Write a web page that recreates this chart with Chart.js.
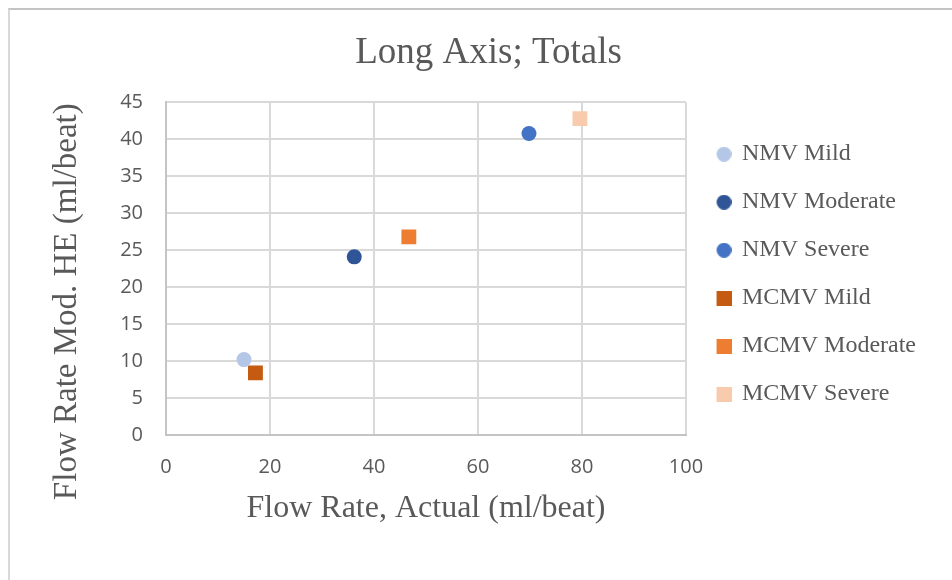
<!DOCTYPE html>
<html>
<head>
<meta charset="utf-8">
<script src="https://cdn.jsdelivr.net/npm/chart.js@4.4.0/dist/chart.umd.min.js"></script>
<style>
  html, body { margin: 0; padding: 0; background: #fff; overflow: hidden; }
  .frame {
    position: absolute; left: 8px; top: 8px;
    border-left: 2px solid #d9d9d9; border-top: 2px solid #c4c4c4;
  }
  .wrap { position: relative; width: 942px; height: 570px; }
</style>
</head>
<body>
<div class="frame"><div class="wrap"><canvas id="chart"></canvas></div></div>
<script>
// ── Data ───────────────────────────────────────────────────────────────────
const seriesNames = ['NMV Mild', 'NMV Moderate', 'NMV Severe', 'MCMV Mild', 'MCMV Moderate', 'MCMV Severe'];
const actualFlow  = [15.0, 36.2, 69.8, 17.2, 46.7, 79.6];   // x, ml/beat
const modHeFlow   = [10.2, 24.1, 40.8, 8.4, 26.8, 42.8];    // y, ml/beat
const seriesColors = ['#b4c7e7', '#2f5597', '#4472c4', '#c55a11', '#ed7d31', '#f8cbad'];
const seriesShapes = ['circle', 'circle', 'circle', 'rect', 'rect', 'rect'];
const xTicks = [0, 20, 40, 60, 80, 100];
const yTicks = [0, 5, 10, 15, 20, 25, 30, 35, 40, 45];

const SERIF = '"Liberation Serif", "Times New Roman", serif';
const SANS = '"Open Sans", "Liberation Sans", sans-serif';
const TEXT = '#595959';

// legend markers: same size for circles and squares, nudged a little right
function legendMarker(shape, color) {
  const c = document.createElement('canvas');
  c.width = 23; c.height = 15;
  const g = c.getContext('2d');
  g.fillStyle = color;
  if (shape === 'rect') g.fillRect(8, 0, 15, 15);
  else { g.beginPath(); g.arc(15.5, 7.5, 7.5, 0, Math.PI * 2); g.fill(); }
  return c;
}
const markers = seriesShapes.map((s, i) => legendMarker(s, seriesColors[i]));

const datasets = seriesNames.map((name, i) => ({
  label: name,
  data: [{ x: actualFlow[i], y: modHeFlow[i] }],
  pointStyle: seriesShapes[i],
  pointRadius: seriesShapes[i] === 'rect' ? 10.5 : 7.5,
  pointHoverRadius: seriesShapes[i] === 'rect' ? 10.5 : 7.5,
  backgroundColor: seriesColors[i],
  borderColor: seriesColors[i],
  borderWidth: 0,
}));

new Chart(document.getElementById('chart'), {
  type: 'scatter',
  data: { datasets },
  options: {
    responsive: true,
    maintainAspectRatio: false,
    animation: false,
    layout: { padding: { left: 41, right: 26, top: 0, bottom: 0 } },
    plugins: {
      title: {
        display: true,
        text: 'Long Axis; Totals',
        color: TEXT,
        font: { family: SERIF, size: 37, weight: 'normal' },
        padding: { top: 21, bottom: 27 }
      },
      legend: {
        position: 'right',
        fullSize: false,
        maxWidth: 300,
        title: { display: true, text: ' ', font: { size: 5, lineHeight: 2.2 }, padding: 0 },
        labels: {
          usePointStyle: true,
          boxWidth: 20,
          boxHeight: 12,
          padding: 24,
          color: TEXT,
          font: { family: SERIF, size: 24 },
          generateLabels: chart => Chart.defaults.plugins.legend.labels.generateLabels(chart)
            .map((item, i) => ({ ...item, pointStyle: markers[i] }))
        }
      },
      tooltip: { enabled: false }
    },
    scales: {
      x: {
        type: 'linear',
        min: xTicks[0],
        max: xTicks[xTicks.length - 1],
        afterBuildTicks: s => { s.ticks = xTicks.map(v => ({ value: v })); },
        afterFit: s => { s.height = 145; },
        ticks: { color: TEXT, padding: 20, font: { family: SANS, size: 20 } },
        grid: { color: '#d9d9d9', lineWidth: 2, drawTicks: false },
        border: { color: '#c4c4c4', width: 2 },
        title: {
          display: true,
          text: 'Flow Rate, Actual (ml/beat)',
          color: TEXT,
          font: { family: SERIF, size: 32, weight: 'normal' },
          padding: { top: 4, bottom: 52 }
        }
      },
      y: {
        type: 'linear',
        min: yTicks[0],
        max: yTicks[yTicks.length - 1],
        afterBuildTicks: s => { s.ticks = yTicks.map(v => ({ value: v })); },
        afterFit: s => { s.width = 115; },
        ticks: { color: TEXT, padding: 23, font: { family: SANS, size: 20 } },
        grid: { color: '#d9d9d9', lineWidth: 2, drawTicks: false },
        border: { color: '#c4c4c4', width: 2 },
        title: {
          display: true,
          // trailing spaces push the rotated title down, as in the original
          text: 'Flow Rate Mod. HE (ml/beat)        ',
          color: TEXT,
          font: { family: SERIF, size: 33, weight: 'normal' },
          padding: { top: -3, bottom: 4 }
        }
      }
    }
  }
});
</script>
</body>
</html>
